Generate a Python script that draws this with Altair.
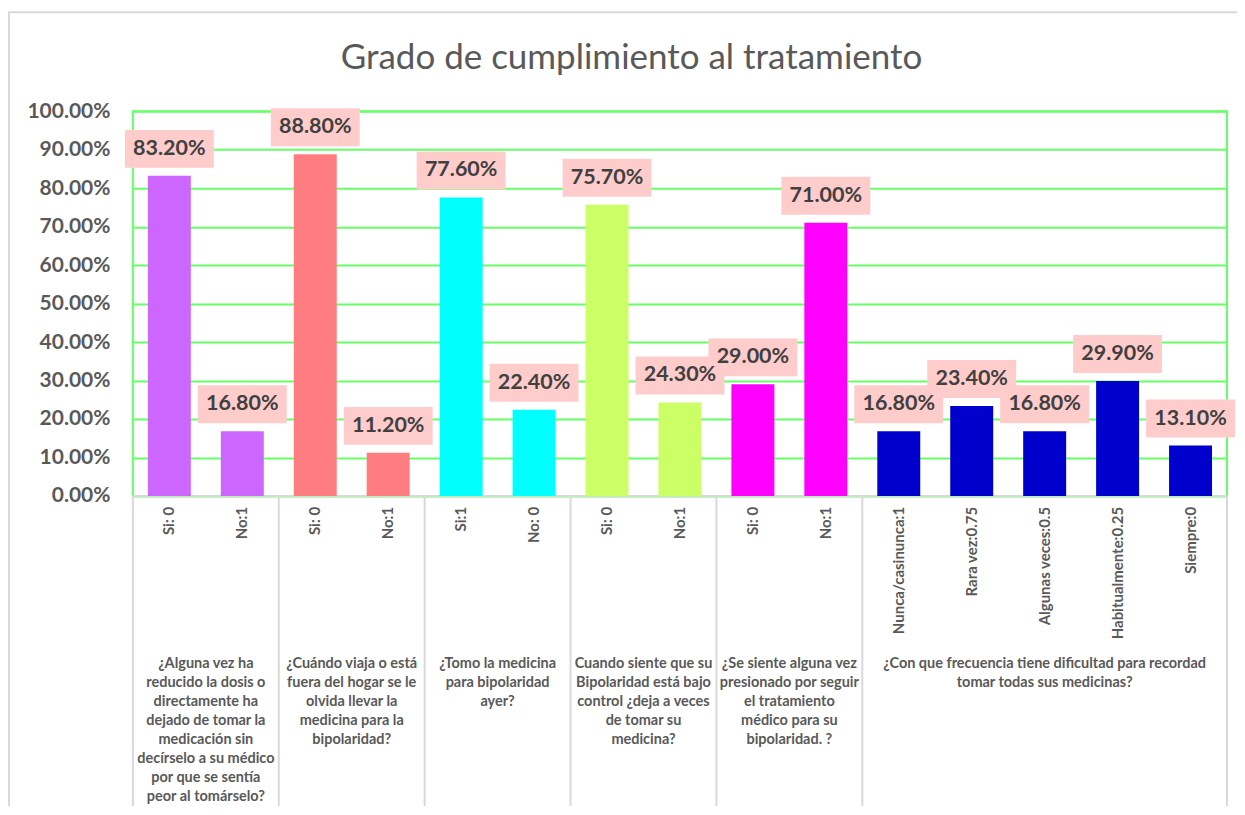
import altair as alt
import pandas as pd

# ---------------- data ----------------
sub_labels = ["Si: 0", "No:1", "Si: 0", "No:1", "Si:1", "No: 0", "Si: 0", "No:1",
              "Si: 0", "No:1", "Nunca/casinunca:1", "Rara vez:0.75",
              "Algunas veces:0.5", "Habitualmente:0.25", "Siempre:0"]
values = [0.832, 0.168, 0.888, 0.112, 0.776, 0.224, 0.757, 0.243,
          0.290, 0.710, 0.168, 0.234, 0.168, 0.299, 0.131]
group_of = [0, 0, 1, 1, 2, 2, 3, 3, 4, 4, 5, 5, 5, 5, 5]
group_sizes = [2, 2, 2, 2, 2, 5]
group_colors = ["#CC66FF", "#FF7C80", "#00FFFF", "#CCFF66", "#FF00FF", "#0000CC"]
group_texts = [
    ["¿Alguna vez ha", "reducido la dosis o", "directamente ha", "dejado de tomar la",
     "medicación sin", "decírselo a su médico", "por que se sentía", "peor al tomárselo?"],
    ["¿Cuándo  viaja o está", "fuera del hogar  se le", "olvida llevar la",
     "medicina para la", "bipolaridad?"],
    ["¿Tomo la medicina", "para bipolaridad", "ayer?"],
    ["Cuando siente que su", "Bipolaridad  está bajo", "control ¿deja a veces",
     "de tomar su", "medicina?"],
    ["¿Se siente alguna vez", "presionado por seguir", "el tratamiento",
     "médico para su", "bipolaridad. ?"],
    ["¿Con que frecuencia tiene dificultad para recordad", "tomar todas sus medicinas?"],
]
title_text = "Grado de cumplimiento al tratamiento"
y_ticks = [0.0, 0.1, 0.2, 0.3, 0.4, 0.5, 0.6, 0.7, 0.8, 0.9, 1.0]

# ---------------- tables ----------------
df = pd.DataFrame({
    "idx": list(range(len(values))),
    "sub": sub_labels,
    "value": values,
    "color": [group_colors[g] for g in group_of],
})
df["center"] = df["idx"] + 0.5

starts = []
s = 0
for n in group_sizes:
    starts.append(s)
    s += n
gdf = pd.DataFrame({
    "gcenter": [st + n / 2 for st, n in zip(starts, group_sizes)],
    "lines": group_texts,
})
bdf = pd.DataFrame({"b": starts + [s]})
one = pd.DataFrame({"k": [0]})

W, H = 1095, 385
FONT = "Lato"
GRAY = "#595959"

x_scale = alt.Scale(domain=[0, len(values)], nice=False, zero=False, padding=0)
y_scale = alt.Scale(domain=[0, 1], nice=False)
y_axis = alt.Axis(
    values=y_ticks, tickCount=11, format=".2%", title=None, labelFont=FONT,
    labelFontSize=21, labelFontWeight="bold", labelColor=GRAY, labelPadding=23,
    labelOverlap=False, labelFlush=False, ticks=False, domain=False, grid=True,
    gridColor="#66FF66", gridWidth=2, gridOpacity=1)

frame = alt.Chart(one).mark_rect(fill="transparent", stroke="#D9D9D9", strokeWidth=2).encode(
    x=alt.value(-124), x2=alt.value(W + 40), y=alt.value(-99), y2=alt.value(H + 340)
)

dividers = alt.Chart(bdf).mark_rule(color="#D9D9D9", strokeWidth=2).encode(
    x=alt.X("b:Q", scale=x_scale, axis=None),
    y=alt.value(H), y2=alt.value(H + 320),
)

axis_line = alt.Chart(one).mark_rule(color="#D9D9D9", strokeWidth=2).encode(
    x=alt.value(0), x2=alt.value(W), y=alt.value(H)
)

base = alt.Chart(df)

bars = base.mark_bar(width=43).encode(
    x=alt.X("center:Q", scale=x_scale, axis=None),
    y=alt.Y("value:Q", scale=y_scale, axis=y_axis),
    y2=alt.datum(0),
    color=alt.Color("color:N", scale=None),
)

boxes = base.mark_bar(width=89, color="#FFCCCC", yOffset=-8, y2Offset=-46).encode(
    x=alt.X("center:Q", scale=x_scale, axis=None),
    y=alt.Y("value:Q", scale=y_scale, axis=y_axis),
    y2=alt.Y2("value"),
)

labels = base.mark_text(font=FONT, fontSize=21.5, fontWeight="bold", color="#404040",
                        dy=-27, baseline="middle", align="center").encode(
    x=alt.X("center:Q", scale=x_scale, axis=None),
    y=alt.Y("value:Q", scale=y_scale, axis=y_axis),
    text=alt.Text("value:Q", format=".2%"),
)

subs = base.mark_text(font=FONT, fontSize=15, fontWeight="bold", color=GRAY,
                      angle=270, align="right", baseline="middle").encode(
    x=alt.X("center:Q", scale=x_scale, axis=None),
    y=alt.value(H + 11),
    text="sub:N",
)

grp = alt.Chart(gdf).mark_text(font=FONT, fontSize=14.5, fontWeight="bold", color=GRAY,
                               align="center", baseline="top", lineHeight=19).encode(
    x=alt.X("gcenter:Q", scale=x_scale, axis=None),
    y=alt.value(H + 161),
    text="lines:N",
)

title = alt.Chart(one).mark_text(font=FONT, fontSize=35, color=GRAY, align="center",
                                 baseline="middle").encode(
    x=alt.value(499), y=alt.value(-53), text=alt.value(title_text)
)

chart = alt.layer(frame, dividers, axis_line, bars, boxes, labels, subs, grp, title).properties(
    width=W, height=H,
    autosize=alt.AutoSizeParams(type="none"),
    padding={"left": 125, "top": 103, "right": 10, "bottom": 310},
).configure_view(stroke="#66FF66", strokeWidth=2)

chart.save("out.html", embed_options={"renderer": "svg", "actions": False})
